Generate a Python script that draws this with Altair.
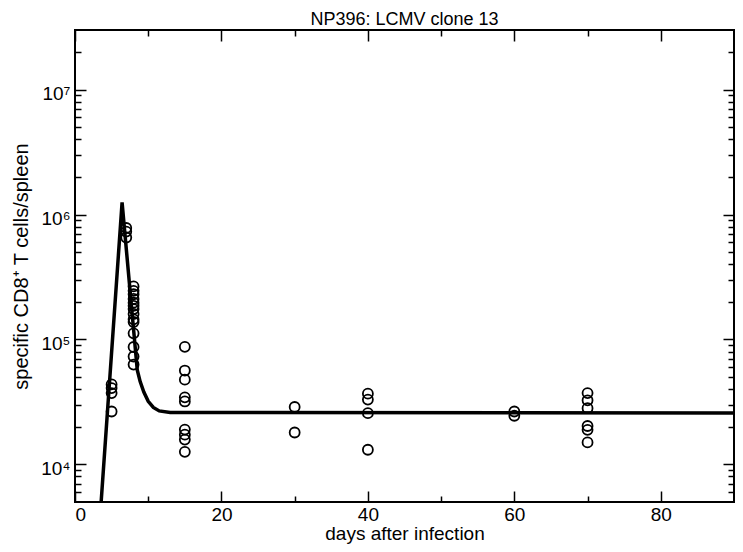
import altair as alt
import pandas as pd

# ---- data ----
pt_days = [5, 5, 5, 5,
           7, 7, 7,
           8, 8, 8, 8, 8, 8, 8, 8, 8, 8, 8, 8, 8, 8,
           15, 15, 15, 15, 15, 15, 15, 15, 15,
           30, 30,
           40, 40, 40, 40,
           60, 60,
           70, 70, 70, 70, 70, 70]
pt_vals = [43700, 40800, 37200, 26500,
           780000, 730000, 655000,
           266000, 245000, 230000, 211000, 197000, 186000, 175000, 160000,
           145000, 138000, 112000, 87000, 73000, 63000,
           87300, 56400, 47700, 34400, 31900, 19000, 17300, 15800, 12600,
           28800, 18000,
           36800, 33000, 25700, 13100,
           26500, 24500,
           37200, 32600, 28200, 20300, 18900, 15000]

line_days = [3.4, 6.43, 8.5, 8.9, 9.4, 10.0, 10.7, 11.5, 13.0, 90.0]
line_vals = [3600, 1.25e6, 57000, 46000, 38000, 32000, 28600, 26800, 26000, 25800]

x_major = [0, 20, 40, 60, 80]
x_minor = [10, 30, 50, 70]
y_major = [1e4, 1e5, 1e6, 1e7]
y_major_labels = ["10\u2074", "10\u2075", "10\u2076", "10\u2077"]
y_minor = [m * 10 ** e for e in range(3, 8) for m in range(2, 10)
           if 5000 < m * 10 ** e < 3e7]

title_text = "NP396: LCMV clone 13"
x_title = "days after infection"
y_title = "specific CD8\u207a T cells/spleen"

pts = pd.DataFrame({"day": pt_days, "val": pt_vals})
ln = pd.DataFrame({"day": line_days, "val": line_vals})

FONT = "Liberation Sans"
xs = alt.Scale(domain=[0, 90], nice=False, zero=False)
ys = alt.Scale(type="log", domain=[5000, 3e7], nice=False)

label_expr = " : ".join(
    f"datum.value == {v} ? '{l}'" for v, l in zip(y_major, y_major_labels)
) + " : ''"

MAJ = 11
MIN = 6
common = dict(grid=False, domain=False, tickColor="black", tickWidth=1.5,
              labelColor="black", labelFont=FONT, titleFont=FONT,
              titleColor="black", titleFontWeight="normal")

ax_bottom_major = alt.Axis(orient="bottom", values=x_major, tickSize=MAJ, offset=-MAJ,
                           labelFontSize=19, labelPadding=3, format="d",
                           title=x_title, titleFontSize=19, titlePadding=0, **common)
ax_bottom_minor = alt.Axis(orient="bottom", values=x_minor, tickSize=MIN, offset=-MIN,
                           labels=False, title=None, **common)
ax_top_major = alt.Axis(orient="top", values=x_major, tickSize=MAJ, offset=-MAJ,
                        labels=False, title=None, **common)
ax_top_minor = alt.Axis(orient="top", values=x_minor, tickSize=MIN, offset=-MIN,
                        labels=False, title=None, **common)

ax_left_major = alt.Axis(orient="left", values=y_major, tickSize=MAJ, offset=-MAJ,
                         labelExpr=label_expr, labelFontSize=19, labelPadding=5,
                         labelOffset=4,
                         title=y_title, titleFontSize=20, titlePadding=9, **common)
ax_left_minor = alt.Axis(orient="left", values=y_minor, tickSize=MIN, offset=-MIN,
                         labels=False, title=None, **common)
ax_right_major = alt.Axis(orient="right", values=y_major, tickSize=MAJ, offset=-MAJ,
                          labels=False, title=None, **common)
ax_right_minor = alt.Axis(orient="right", values=y_minor, tickSize=MIN, offset=-MIN,
                          labels=False, title=None, **common)

line = alt.Chart(ln).mark_line(color="black", strokeWidth=3.5, clip=True).encode(
    x=alt.X("day:Q", scale=xs, axis=ax_bottom_major),
    y=alt.Y("val:Q", scale=ys, axis=ax_left_major),
)
points = alt.Chart(pts).mark_point(shape="circle", filled=False, color="black",
                                   size=100, strokeWidth=1.8, opacity=1, clip=True).encode(
    x=alt.X("day:Q", scale=xs, axis=ax_bottom_minor),
    y=alt.Y("val:Q", scale=ys, axis=ax_left_minor),
)
ghost1 = alt.Chart(pts).mark_point(opacity=0).encode(
    x=alt.X("day:Q", scale=xs, axis=ax_top_major),
    y=alt.Y("val:Q", scale=ys, axis=ax_right_major),
)
ghost2 = alt.Chart(pts).mark_point(opacity=0).encode(
    x=alt.X("day:Q", scale=xs, axis=ax_top_minor),
    y=alt.Y("val:Q", scale=ys, axis=ax_right_minor),
)

chart = alt.layer(line, points, ghost1, ghost2).resolve_axis(
    x="independent", y="independent"
).properties(
    width=659,
    height=472,
    title=alt.TitleParams(title_text, font=FONT, fontSize=18, fontWeight="normal",
                          color="black", anchor="middle", offset=0),
    autosize=alt.AutoSizeParams(type="none"),
    padding={"left": 67, "top": 22, "right": 1, "bottom": 42},
).configure_view(stroke="black", strokeWidth=2)

chart.save("out.html", embed_options={"renderer": "svg", "actions": False})
